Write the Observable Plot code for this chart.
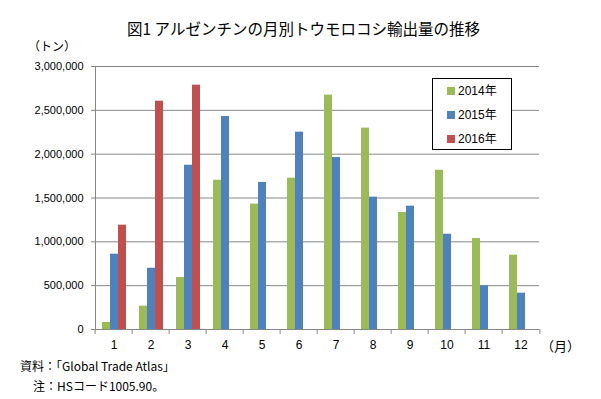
<!DOCTYPE html>
<html><head><meta charset="utf-8">
<script src="https://cdn.jsdelivr.net/npm/d3@7"></script>
<script src="https://cdn.jsdelivr.net/npm/@observablehq/plot@0.6"></script>
<style>
body{margin:0;background:#fff;}
#wrap{position:relative;width:601px;height:399px;overflow:hidden;font-family:"Noto Sans CJK JP","Liberation Sans",sans-serif;color:#000;}
.t{position:absolute;white-space:nowrap;line-height:1;}
#legend{position:absolute;left:432px;top:78px;width:78px;height:70px;border:1px solid #000;background:#fff;}
.li{position:absolute;left:14px;height:14px;display:flex;align-items:center;font-family:"Liberation Sans","Noto Sans CJK JP",sans-serif;font-size:12px;}
.sw{width:8px;height:8px;margin-right:3px;margin-top:3px;}
</style></head><body>
<div id="wrap">
  <div id="chart" style="position:absolute;left:0;top:0;"></div>
  <div class="t" style="left:127px;top:21px;font-size:15.5px;">図1 アルゼンチンの月別トウモロコシ輸出量の推移</div>
  <div class="t" style="left:28px;top:40px;font-size:12px;">（トン）</div>
  <div class="t" style="left:541px;top:339px;font-size:13px;">（月）</div>
  <div class="t" style="left:20px;top:360px;font-size:12px;">資料：「Global Trade Atlas」</div>
  <div class="t" style="left:33px;top:380px;font-size:12px;">注：HSコード1005.90。</div>
  <div id="legend"></div>
</div>
<script>
const months = [1,2,3,4,5,6,7,8,9,10,11,12];
const years = ["2014年","2015年","2016年"];
const v2014 = [80000, 266000, 593000, 1703000, 1430000, 1726000, 2673000, 2297000, 1335000, 1817000, 1038000, 848000];
const v2015 = [859000, 699000, 1874000, 2430000, 1677000, 2251000, 1962000, 1510000, 1407000, 1087000, 498000, 414000];
const v2016 = [1190000, 2604000, 2787000, null, null, null, null, null, null, null, null, null];
const colors = ["#9BBB59", "#4F81BD", "#C0504D"];
const yTicks = [0, 500000, 1000000, 1500000, 2000000, 2500000, 3000000];

const seriesValues = [v2014, v2015, v2016];
const rows = [];
months.forEach((m, i) => years.forEach((y, j) => {
  const v = seriesValues[j][i];
  if (v != null) rows.push({month: m, year: y, value: v});
}));

const W = 601, H = 355, mL = 90, mR = 58, mT = 66, mB = 26;
const step = (W - mL - mR) / months.length;
const grey = "#868686";

const chart = Plot.plot({
  width: W, height: H,
  marginTop: mT, marginBottom: mB, marginLeft: mL, marginRight: mR,
  style: {fontFamily: '"Liberation Sans","Noto Sans CJK JP",sans-serif', fontSize: "11px", color: "#000", background: "transparent", overflow: "visible"},
  fx: {domain: months, padding: 0, label: null, axis: null},
  x: {domain: years, paddingInner: 0, paddingOuter: 0.745, axis: null},
  y: {domain: [0, 3000000], label: null, axis: null},
  color: {domain: years, range: colors},
  marks: [
    Plot.gridY(yTicks, {stroke: grey, strokeOpacity: 1}),
    Plot.barY(rows, {fx: "month", x: "year", y: "value", fill: "year"}),
    Plot.ruleY([0], {stroke: grey}),
    Plot.frame({anchor: "left", facet: "super", stroke: grey}),
    Plot.axisY(yTicks, {tickSize: 4, tickPadding: 8, tickFormat: d3.format(","), stroke: grey, label: null, fontSize: 11}),
    Plot.axisFx({anchor: "bottom", tickSize: 5, tickFormat: () => "", dx: -step / 2, stroke: grey, label: null}),
    Plot.axisFx({anchor: "bottom", ticks: [months[months.length - 1]], tickSize: 5, tickFormat: () => "", dx: step / 2, stroke: grey, label: null}),
    Plot.axisFx({anchor: "bottom", tickSize: 0, tickPadding: 11, label: null, fontSize: 12})
  ]
});
document.getElementById("chart").appendChild(chart);

const color = chart.scale("color");
const legend = document.getElementById("legend");
years.forEach((y, i) => {
  const item = document.createElement("div");
  item.className = "li";
  item.style.top = (3 + i * 24) + "px";
  const sw = document.createElement("span");
  sw.className = "sw";
  sw.style.background = color.apply(y);
  const tx = document.createElement("span");
  tx.textContent = y;
  item.appendChild(sw); item.appendChild(tx);
  legend.appendChild(item);
});
</script>
</body></html>
